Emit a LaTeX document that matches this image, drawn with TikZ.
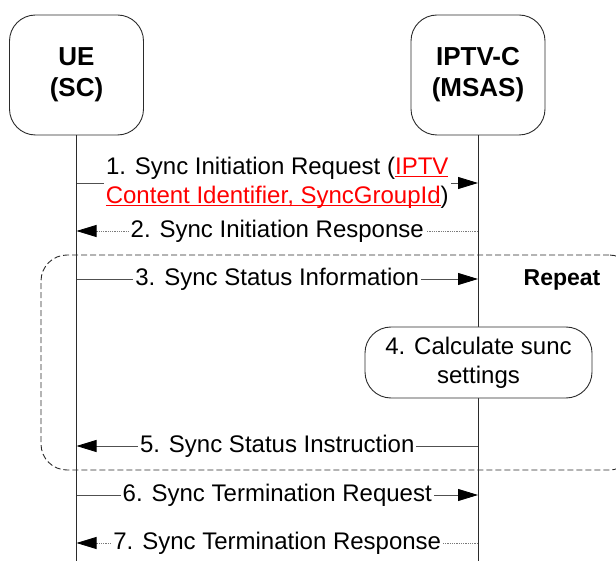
\documentclass[tikz,border=0pt]{standalone}
\usepackage{fontspec}
\setmainfont{Liberation Sans}
\usetikzlibrary{arrows.meta, positioning, calc}
\definecolor{sline}{HTML}{505050}
\definecolor{sdot}{HTML}{7A7A7A}
\definecolor{sframe}{HTML}{2B2B2B}
\definecolor{slink}{HTML}{FF0000}
\newcommand{\linkul}[1]{\textcolor{slink}{\underline{\smash{#1}}}}
\tikzset{
  >={Triangle[length=20pt,width=12pt,color=black]},
  font=\fontsize{24}{29}\selectfont,
  actor/.style={
    draw=sframe, fill=white, line width=0.9pt,
    rounded corners=26pt, align=center, inner sep=0pt,
    minimum width=134pt, minimum height=120pt,
    font=\fontsize{26}{31}\selectfont\bfseries
  },
  proc/.style={
    draw=sframe, fill=white, line width=0.9pt,
    rounded corners=26pt, align=center, inner sep=0pt,
    minimum width=227pt, minimum height=71pt
  },
  life/.style={draw=sframe, line width=0.9pt},
  msg/.style={->, draw=sline, line width=0.9pt},
  reply/.style={->, draw=sdot, line width=0.8pt, densely dotted},
  lbl/.style={fill=white, inner xsep=2pt, inner ysep=1pt, align=center},
  loopbox/.style={
    draw=sframe, dash pattern=on 6pt off 3pt, line width=0.9pt,
    rounded corners=26pt, inner sep=0pt
  }
}
\begin{document}
\begin{tikzpicture}[x=1pt, y=-1pt]
  \useasboundingbox (0,0) rectangle (616,561);
  % actors and lifelines
  \node[actor] (ue) at (76.5,75) {UE\\(SC)};
  \node[actor] (iptv) at (478,75) {IPTV-C\\(MSAS)};
  \coordinate (ueend) at (ue |- 0,561);
  \coordinate (iptvend) at (iptv |- 0,561);
  \draw[life] (ue) -- (ueend);
  \draw[life] (iptv) -- (iptvend);
  % repeat frame, right side runs past the page edge
  \node[loopbox, minimum width=594pt, minimum height=215pt] (rep) at (338,362.5) {};
  \node[font=\fontsize{23}{28}\selectfont\bfseries] (replbl) at (562,280) {Repeat};
  % message anchors on the lifelines
  \foreach \n/\y in {1/183, 2/231, 3/279, 5/446, 6/495, 7/543} {
    \coordinate (ue\n) at (ue |- 0,\y);
    \coordinate (iptv\n) at (iptv |- 0,\y);
  }
  \draw[msg] (ue1) -- (iptv1)
    node[lbl, midway] (lbl1) {1. Sync Initiation Request (\linkul{IPTV}\\\linkul{Content Identifier, SyncGroupId})};
  \draw[reply] (iptv2) -- (ue2) node[lbl, midway] (lbl2) {2. Sync Initiation Response};
  \draw[msg] (ue3) -- (iptv3) node[lbl, midway] (lbl3) {3. Sync Status Information};
  \node[proc] (calc) at (478.5,362.5) {4. Calculate sunc\\settings};
  \draw[msg] (iptv5) -- (ue5) node[lbl, midway] (lbl5) {5. Sync Status Instruction};
  \draw[msg] (ue6) -- (iptv6) node[lbl, midway] (lbl6) {6. Sync Termination Request};
  \draw[reply] (iptv7) -- (ue7) node[lbl, midway] (lbl7) {7. Sync Termination Response};
\end{tikzpicture}
\end{document}
